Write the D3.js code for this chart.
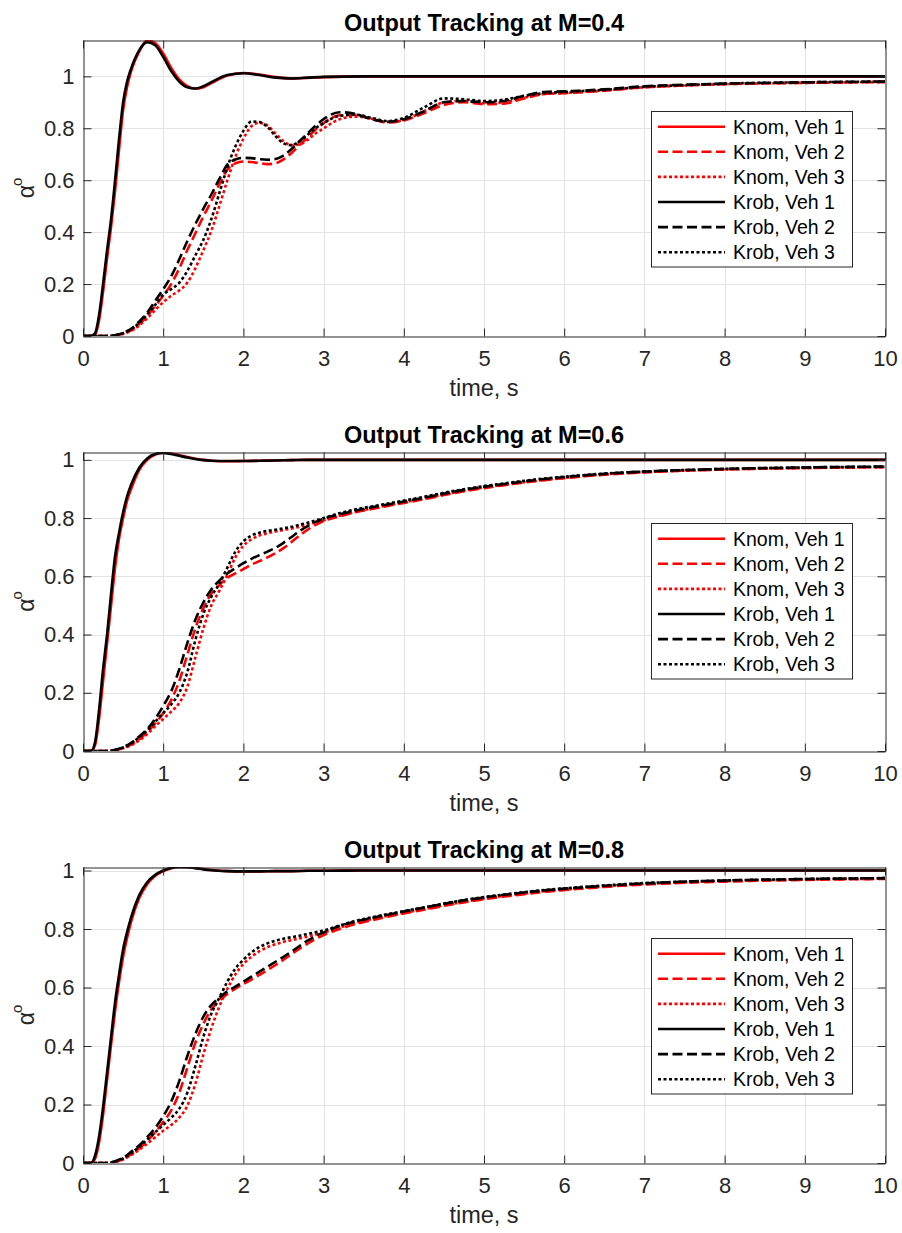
<!DOCTYPE html>
<html>
<head>
<meta charset="utf-8">
<script src="https://cdn.jsdelivr.net/npm/d3@7"></script>
<style>
  body { margin: 0; background: #fff; }
  svg { display: block; }
  text { font-family: "Liberation Sans", Arial, Helvetica, sans-serif; }
</style>
</head>
<body>
<svg id="fig" width="902" height="1233"></svg>
<script>
// ---- time bases (s) ----
const tFast = [0,0.1,0.15,0.2,0.25,0.3,0.35,0.4,0.45,0.5,0.55,0.6,0.7,0.8,0.9,1.0,1.1,1.2,1.3,1.4,1.5,1.6,1.8,2.0,2.2,2.4,2.6,2.8,3.0,3.5,4,5,6,8,10];
const tSlow = [0,0.3,0.4,0.5,0.6,0.7,0.8,0.9,1.0,1.1,1.2,1.3,1.4,1.5,1.6,1.7,1.8,1.9,2.0,2.1,2.2,2.3,2.4,2.5,2.6,2.7,2.8,2.9,3.0,3.2,3.4,3.6,3.8,4.0,4.25,4.5,4.75,5.0,5.25,5.5,5.75,6.0,6.5,7,7.5,8,9,10];

// ---- M = 0.4 ----
const knom1_M04 = [0,0,0.005,0.06,0.17,0.3,0.42,0.56,0.72,0.87,0.96,1.02,1.095,1.138,1.128,1.088,1.032,0.988,0.962,0.952,0.958,0.974,1.003,1.013,1.007,0.997,0.992,0.994,0.997,1.0,1,1,1,1,1];
const knom2_M04 = [0,0,0.002,0.009,0.022,0.045,0.077,0.115,0.155,0.2,0.26,0.33,0.395,0.46,0.52,0.585,0.64,0.665,0.672,0.67,0.666,0.662,0.665,0.68,0.705,0.735,0.765,0.795,0.82,0.85,0.852,0.835,0.822,0.83,0.858,0.89,0.9,0.893,0.895,0.915,0.932,0.935,0.945,0.958,0.965,0.97,0.975,0.978];
const knom3_M04 = [0,0,0.002,0.008,0.02,0.04,0.068,0.1,0.13,0.155,0.175,0.205,0.26,0.33,0.405,0.5,0.6,0.69,0.76,0.808,0.821,0.81,0.78,0.75,0.735,0.738,0.755,0.78,0.8,0.835,0.845,0.837,0.824,0.832,0.865,0.9,0.905,0.897,0.9,0.918,0.932,0.936,0.946,0.958,0.965,0.97,0.975,0.978];
const krob1_M04 = [0,0,0.01,0.08,0.2,0.33,0.45,0.6,0.76,0.9,0.98,1.03,1.1,1.132,1.12,1.075,1.02,0.98,0.958,0.953,0.962,0.978,1.005,1.012,1.005,0.995,0.992,0.995,0.998,1.0,1,1,1,1,1];
const krob2_M04 = [0,0,0.003,0.012,0.028,0.055,0.09,0.135,0.18,0.23,0.295,0.365,0.43,0.49,0.545,0.605,0.66,0.68,0.686,0.685,0.681,0.679,0.682,0.695,0.72,0.75,0.78,0.81,0.835,0.862,0.855,0.835,0.825,0.835,0.865,0.9,0.905,0.9,0.905,0.925,0.94,0.942,0.95,0.962,0.968,0.972,0.977,0.98];
const krob3_M04 = [0,0,0.003,0.011,0.026,0.05,0.083,0.12,0.16,0.18,0.205,0.25,0.31,0.37,0.45,0.55,0.65,0.73,0.79,0.826,0.824,0.805,0.77,0.742,0.735,0.75,0.775,0.8,0.82,0.848,0.852,0.84,0.828,0.84,0.88,0.915,0.912,0.905,0.91,0.925,0.935,0.94,0.948,0.96,0.966,0.972,0.977,0.98];

// ---- M = 0.6 ----
const knom1_M06 = [0,0,0.02,0.11,0.24,0.37,0.5,0.63,0.73,0.8,0.86,0.9,0.965,1.0,1.018,1.025,1.022,1.016,1.01,1.004,1.0,0.997,0.995,0.996,0.997,0.998,0.999,1.0,1.0,1.0,1,1,1,1,1];
const knom2_M06 = [0,0,0.003,0.01,0.022,0.04,0.064,0.095,0.13,0.175,0.24,0.33,0.42,0.49,0.54,0.57,0.595,0.61,0.625,0.64,0.652,0.665,0.68,0.697,0.718,0.74,0.76,0.777,0.79,0.806,0.82,0.831,0.842,0.852,0.865,0.879,0.892,0.903,0.913,0.922,0.93,0.937,0.949,0.957,0.963,0.967,0.972,0.975];
const knom3_M06 = [0,0,0.003,0.009,0.02,0.036,0.058,0.085,0.11,0.135,0.165,0.22,0.32,0.42,0.5,0.55,0.605,0.665,0.705,0.727,0.74,0.748,0.754,0.759,0.764,0.77,0.777,0.785,0.792,0.808,0.822,0.833,0.844,0.854,0.867,0.881,0.894,0.905,0.914,0.923,0.931,0.938,0.95,0.958,0.963,0.967,0.972,0.975];
const krob1_M06 = [0,0,0.03,0.14,0.28,0.4,0.54,0.67,0.75,0.82,0.875,0.915,0.972,1.005,1.02,1.024,1.02,1.014,1.008,1.003,0.999,0.997,0.996,0.996,0.997,0.998,0.999,1.0,1.0,1.0,1,1,1,1,1];
const krob2_M06 = [0,0,0.004,0.013,0.028,0.05,0.075,0.11,0.155,0.205,0.28,0.37,0.45,0.51,0.555,0.585,0.61,0.628,0.645,0.66,0.673,0.685,0.698,0.715,0.735,0.755,0.772,0.787,0.798,0.813,0.826,0.837,0.847,0.857,0.87,0.884,0.897,0.908,0.917,0.926,0.934,0.941,0.952,0.96,0.965,0.969,0.974,0.977];
const krob3_M06 = [0,0,0.004,0.012,0.026,0.047,0.07,0.1,0.13,0.16,0.2,0.27,0.38,0.47,0.53,0.575,0.63,0.685,0.72,0.74,0.75,0.756,0.76,0.765,0.77,0.777,0.784,0.792,0.8,0.817,0.83,0.84,0.85,0.86,0.873,0.887,0.899,0.91,0.919,0.928,0.936,0.942,0.953,0.96,0.965,0.969,0.974,0.977];

// ---- M = 0.8 ----
const knom1_M08 = [0,0,0.015,0.07,0.165,0.285,0.405,0.52,0.62,0.705,0.77,0.825,0.905,0.953,0.982,0.998,1.008,1.012,1.012,1.009,1.005,1.002,0.998,0.997,0.997,0.998,0.998,0.999,0.999,1.0,1,1,1,1,1];
const knom2_M08 = [0,0,0.004,0.013,0.03,0.05,0.075,0.105,0.14,0.18,0.24,0.325,0.41,0.475,0.525,0.555,0.578,0.596,0.612,0.627,0.643,0.66,0.677,0.695,0.714,0.733,0.75,0.766,0.779,0.8,0.817,0.83,0.842,0.853,0.866,0.879,0.891,0.902,0.911,0.919,0.927,0.933,0.944,0.952,0.958,0.962,0.968,0.971];
const knom3_M08 = [0,0,0.004,0.012,0.027,0.045,0.066,0.088,0.11,0.13,0.155,0.195,0.27,0.37,0.46,0.535,0.595,0.645,0.68,0.705,0.724,0.738,0.748,0.756,0.762,0.768,0.774,0.781,0.788,0.805,0.821,0.834,0.845,0.855,0.868,0.881,0.893,0.904,0.913,0.921,0.929,0.935,0.946,0.954,0.96,0.964,0.969,0.972];
const krob1_M08 = [0,0,0.025,0.09,0.19,0.31,0.43,0.55,0.645,0.73,0.79,0.84,0.915,0.96,0.985,1.0,1.009,1.012,1.011,1.008,1.004,1.001,0.998,0.997,0.997,0.998,0.998,0.999,0.999,1.0,1,1,1,1,1];
const krob2_M08 = [0,0,0.006,0.018,0.038,0.06,0.088,0.12,0.16,0.21,0.28,0.365,0.44,0.5,0.54,0.565,0.587,0.603,0.62,0.637,0.654,0.671,0.688,0.705,0.723,0.742,0.76,0.776,0.788,0.81,0.826,0.838,0.849,0.86,0.873,0.886,0.898,0.908,0.917,0.925,0.932,0.938,0.948,0.956,0.962,0.966,0.971,0.974];
const krob3_M08 = [0,0,0.005,0.016,0.034,0.055,0.08,0.105,0.13,0.155,0.185,0.24,0.33,0.43,0.51,0.565,0.62,0.665,0.695,0.72,0.738,0.751,0.76,0.767,0.772,0.777,0.783,0.789,0.795,0.812,0.828,0.84,0.851,0.861,0.874,0.887,0.899,0.909,0.918,0.926,0.933,0.939,0.949,0.957,0.962,0.966,0.971,0.974];

// ---- labels and ticks ----
const seriesNames = ["Knom, Veh 1","Knom, Veh 2","Knom, Veh 3","Krob, Veh 1","Krob, Veh 2","Krob, Veh 3"];
const titles = ["Output Tracking at M=0.4","Output Tracking at M=0.6","Output Tracking at M=0.8"];
const yMaxes = [1.14, 1.027, 1.012];
const xTicks = [0,1,2,3,4,5,6,7,8,9,10];
const yTicks = [0,0.2,0.4,0.6,0.8,1];
const xLabel = "time, s";

const panelSeries = [
  [knom1_M04, knom2_M04, knom3_M04, krob1_M04, krob2_M04, krob3_M04],
  [knom1_M06, knom2_M06, knom3_M06, krob1_M06, krob2_M06, krob3_M06],
  [knom1_M08, knom2_M08, knom3_M08, krob1_M08, krob2_M08, krob3_M08]
];

// ---- styling ----
const lineStyles = [
  {color: "#ff0000", dash: null},
  {color: "#ff0000", dash: "10,4.5"},
  {color: "#ff0000", dash: "3,2.5"},
  {color: "#000000", dash: null},
  {color: "#000000", dash: "10,4.5"},
  {color: "#000000", dash: "3,2.5"}
];
const axisColor = "#262626";
const gridColor = "#e3e3e3";
const left = 83, right = 885;
const frames = [{top: 40, bottom: 336}, {top: 452, bottom: 751}, {top: 867, bottom: 1163}];

const svg = d3.select("#fig");

frames.forEach((f, p) => {
  const x = d3.scaleLinear().domain([0, 10]).range([left, right]);
  const y = d3.scaleLinear().domain([0, yMaxes[p]]).range([f.bottom, f.top]);
  const g = svg.append("g");

  // grid
  g.append("g").selectAll("line").data(xTicks.slice(1, -1)).join("line")
    .attr("x1", d => Math.round(x(d)) + 0.5).attr("x2", d => Math.round(x(d)) + 0.5)
    .attr("y1", f.top).attr("y2", f.bottom)
    .attr("stroke", gridColor).attr("stroke-width", 1);
  g.append("g").selectAll("line").data(yTicks.slice(1).filter(v => v < yMaxes[p])).join("line")
    .attr("x1", left).attr("x2", right)
    .attr("y1", d => Math.round(y(d)) + 0.5).attr("y2", d => Math.round(y(d)) + 0.5)
    .attr("stroke", gridColor).attr("stroke-width", 1);

  // curves
  const clipId = "clip" + p;
  svg.append("clipPath").attr("id", clipId).append("rect")
    .attr("x", left).attr("y", f.top).attr("width", right - left).attr("height", f.bottom - f.top);
  const line = d3.line().curve(d3.curveMonotoneX).x(d => x(d[0])).y(d => y(d[1]));
  const cg = g.append("g").attr("clip-path", `url(#${clipId})`);
  panelSeries[p].forEach((vals, i) => {
    const ts = (i % 3 === 0) ? tFast : tSlow;
    const pts = ts.map((t, k) => [t, vals[k]]);
    cg.append("path").datum(pts)
      .attr("d", line)
      .attr("fill", "none")
      .attr("stroke", lineStyles[i].color)
      .attr("stroke-width", 2.6)
      .attr("stroke-linejoin", "round")
      .attr("stroke-dasharray", lineStyles[i].dash);
  });

  // axes (ticks point inward)
  const fmt = d3.format("~g");
  const styleAxis = sel => {
    sel.selectAll("path.domain").attr("stroke", axisColor).attr("stroke-width", 1);
    sel.selectAll(".tick line").attr("stroke", axisColor).attr("stroke-width", 1);
    sel.selectAll(".tick text").attr("fill", axisColor).attr("font-size", 22)
      .attr("font-family", '"Liberation Sans", Arial, sans-serif');
  };
  g.append("g").attr("transform", `translate(0,${f.bottom + 0.5})`)
    .call(d3.axisBottom(x).tickValues(xTicks).tickFormat(fmt).tickSizeInner(-8).tickSizeOuter(0).tickPadding(14))
    .call(styleAxis);
  g.append("g").attr("transform", `translate(0,${f.top + 0.5})`)
    .call(d3.axisTop(x).tickValues(xTicks).tickFormat("").tickSizeInner(-8).tickSizeOuter(0))
    .call(styleAxis);
  g.append("g").attr("transform", `translate(${left + 0.5},0)`)
    .call(d3.axisLeft(y).tickValues(yTicks).tickFormat(fmt).tickSizeInner(-8).tickSizeOuter(0).tickPadding(9))
    .call(styleAxis);
  g.append("g").attr("transform", `translate(${right + 0.5},0)`)
    .call(d3.axisRight(y).tickValues(yTicks).tickFormat("").tickSizeInner(-8).tickSizeOuter(0))
    .call(styleAxis);
  g.selectAll(".tick line").attr("transform", null);

  // title
  g.append("text").attr("x", (left + right) / 2).attr("y", f.top - 9)
    .attr("text-anchor", "middle").attr("font-weight", "bold").attr("font-size", 23.5)
    .attr("fill", "#000").text(titles[p]);

  // x label
  g.append("text").attr("x", (left + right) / 2).attr("y", f.bottom + 60)
    .attr("text-anchor", "middle").attr("font-size", 23.5).attr("fill", axisColor).text(xLabel);

  // y label: alpha with superscript o
  const yl = g.append("text")
    .attr("transform", `translate(33.5,${(f.top + f.bottom) / 2}) rotate(-90)`)
    .attr("text-anchor", "middle").attr("fill", axisColor);
  yl.append("tspan").attr("font-size", 23).text("\u03B1");
  yl.append("tspan").attr("font-size", 15).attr("dy", -12).attr("dx", -1).text("o");

  // legend
  const lg = g.append("g").attr("transform", `translate(651,${f.top + 71})`);
  lg.append("rect").attr("x", 0.5).attr("y", 0.5).attr("width", 201).attr("height", 155.5)
    .attr("fill", "#fff").attr("stroke", axisColor).attr("stroke-width", 1);
  seriesNames.forEach((name, i) => {
    const ry = 15.7 + i * 25.1;
    lg.append("line").attr("x1", 7).attr("x2", 74).attr("y1", ry).attr("y2", ry)
      .attr("stroke", lineStyles[i].color).attr("stroke-width", 2.6)
      .attr("stroke-dasharray", lineStyles[i].dash);
    lg.append("text").attr("x", 82).attr("y", ry).attr("dy", "0.35em")
      .attr("font-size", 19.5).attr("fill", "#000").text(name);
  });
});
</script>
</body>
</html>
